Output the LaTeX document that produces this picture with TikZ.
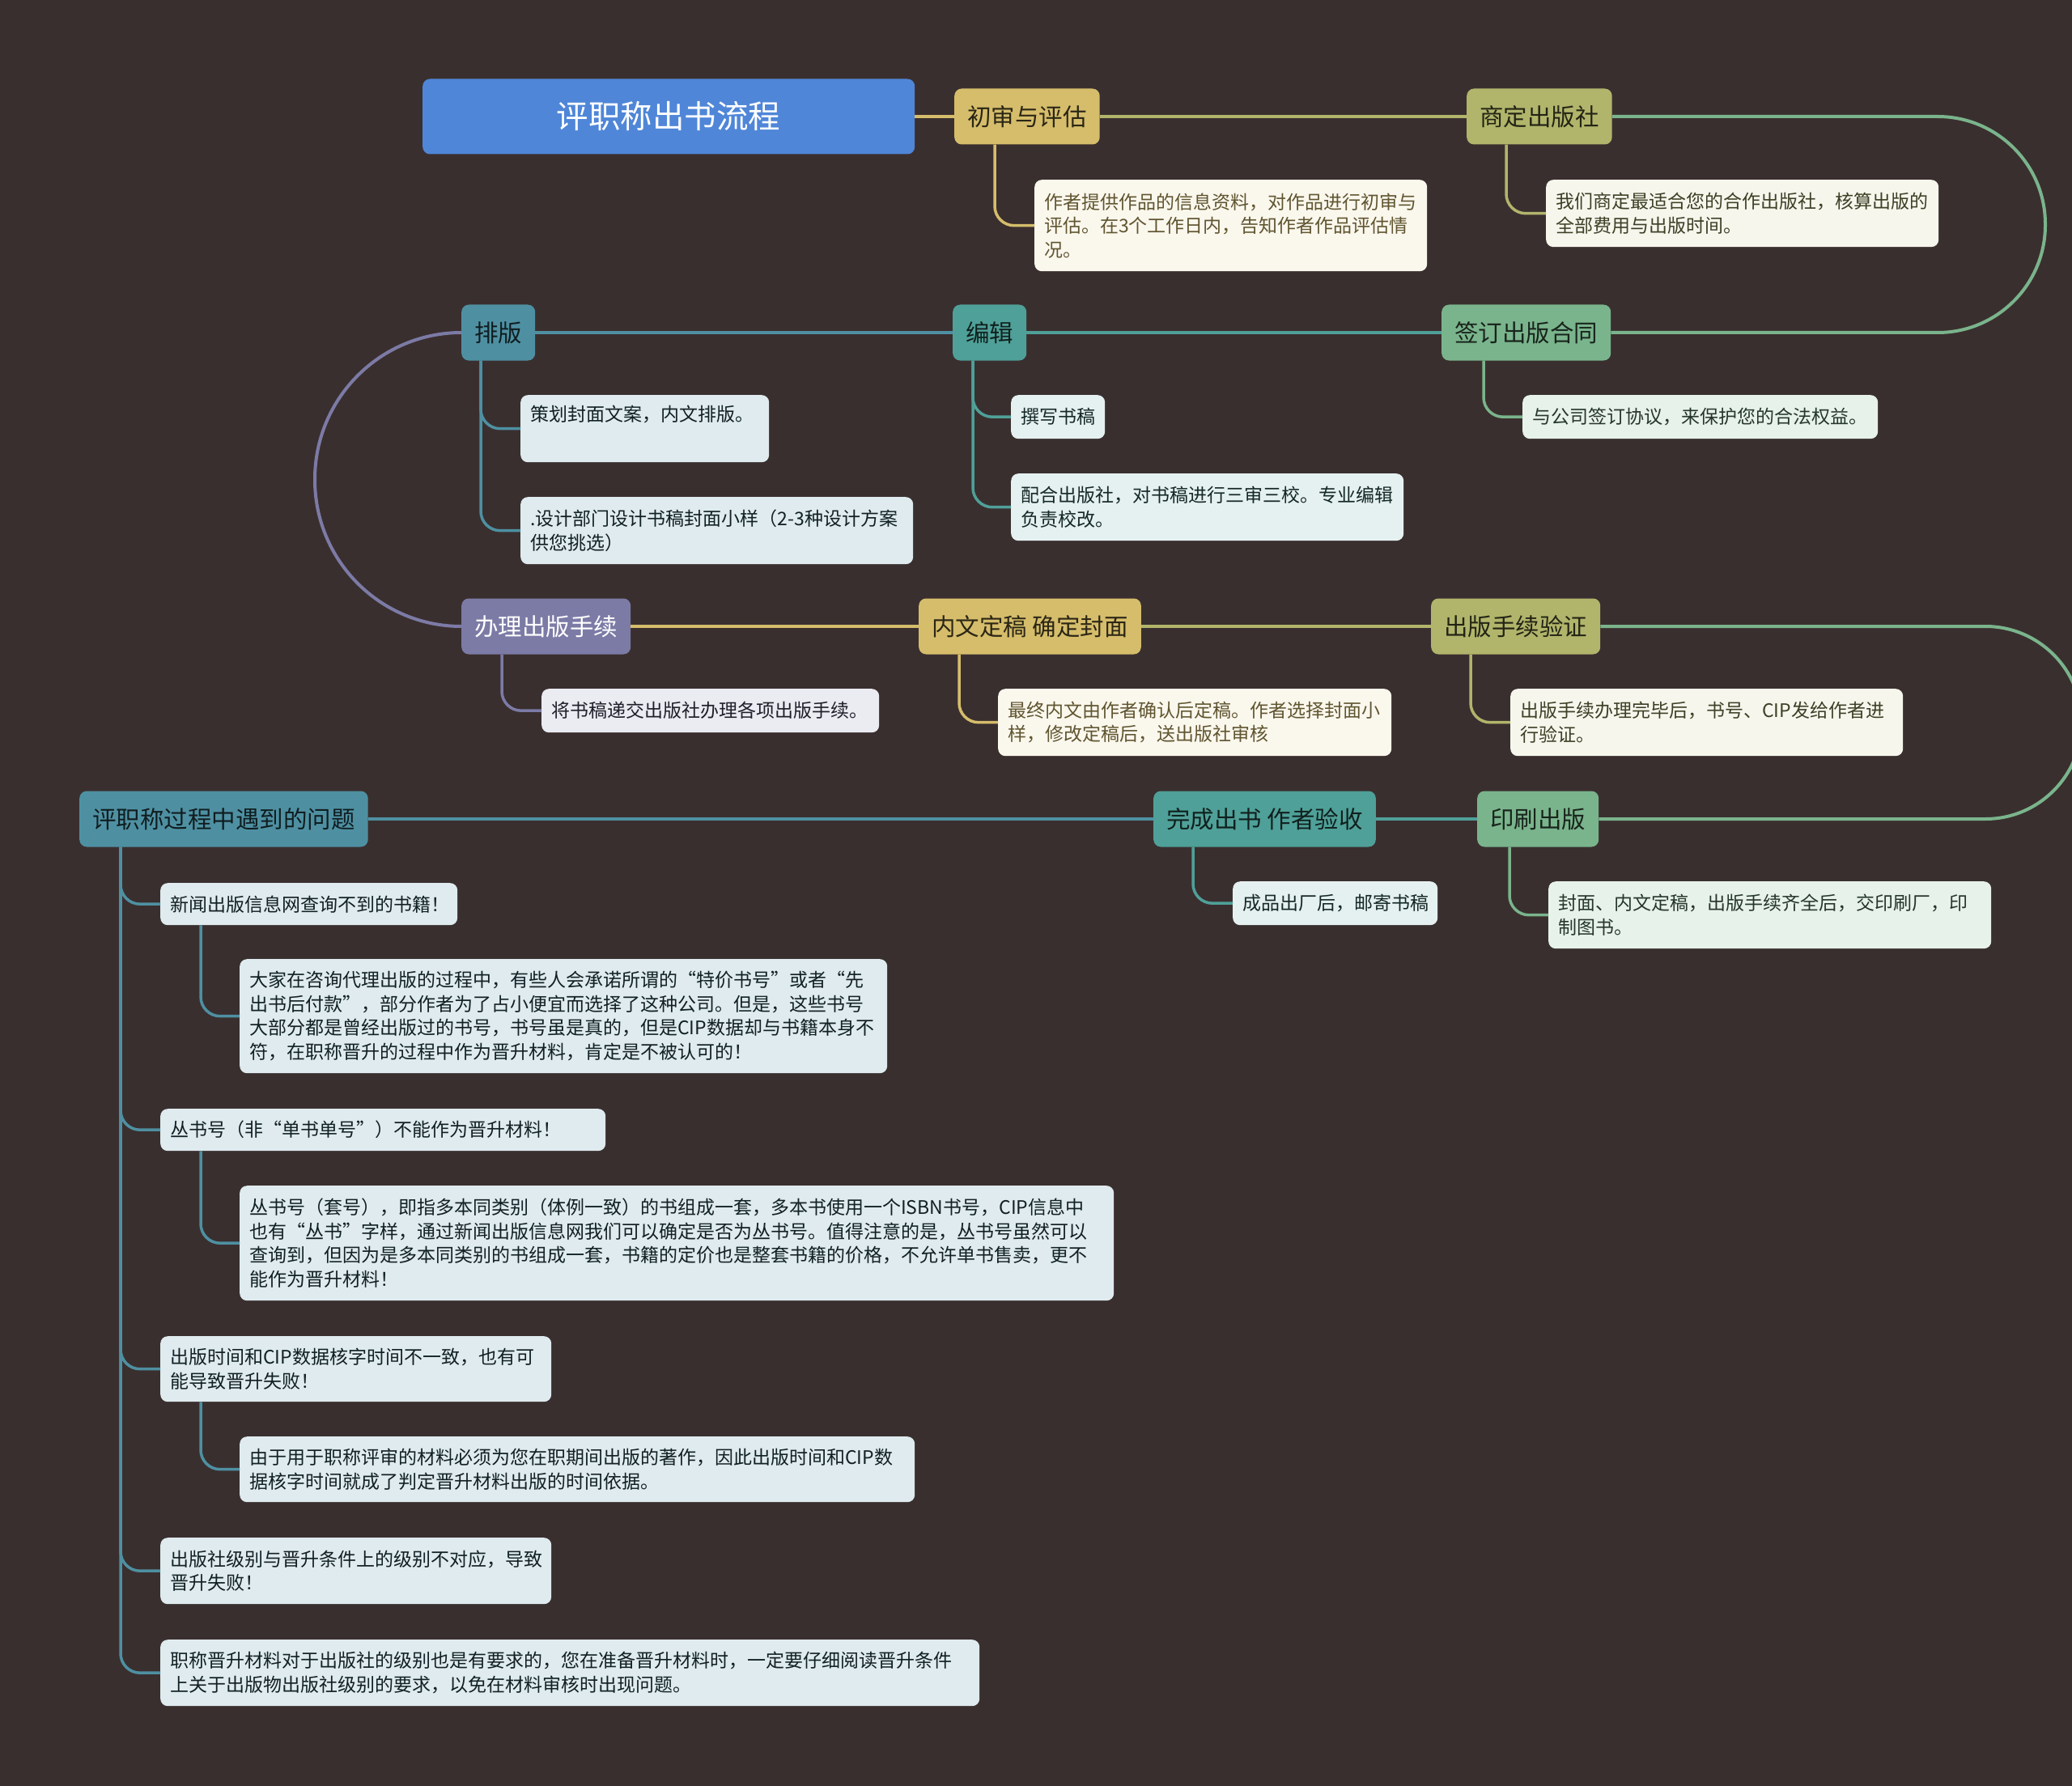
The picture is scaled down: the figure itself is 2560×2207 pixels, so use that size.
\documentclass[tikz,border=0pt]{standalone}
\usepackage{fontspec}
\setmainfont{Noto Sans CJK SC}
\usepackage{xcolor}
\definecolor{bgc}{RGB}{58,47,47}
\definecolor{titlec}{RGB}{79,134,216}
\definecolor{goldc}{RGB}{213,189,107}
\definecolor{olivec}{RGB}{177,181,107}
\definecolor{greenc}{RGB}{122,180,140}
\definecolor{tealc}{RGB}{79,160,152}
\definecolor{bluec}{RGB}{78,144,162}
\definecolor{purplec}{RGB}{124,123,166}

\tikzset{
  topic/.style={rounded corners=9pt, anchor=west, inner xsep=16pt, minimum height=69pt,
    font=\fontsize{29.5pt}{34pt}\selectfont},
  leaf/.style={rounded corners=9pt, anchor=north west, align=left, inner xsep=12pt, inner ysep=0pt,
    font=\fontsize{23pt}{29.5pt}\selectfont},
  link/.style={line width=4pt},
  twig/.style={line width=3.5pt, rounded corners=24pt},
  goldtopic/.style={fill=goldc, text=black!80!goldc},
  olivetopic/.style={fill=olivec, text=black!80!olivec},
  greentopic/.style={fill=greenc, text=black!80!greenc},
  tealtopic/.style={fill=tealc, text=black!80!tealc},
  bluetopic/.style={fill=bluec, text=black!80!bluec},
  purpletopic/.style={fill=purplec, text=white},
  goldleaf/.style={fill=goldc!12!white, text=goldc!45!black},
  oliveleaf/.style={fill=olivec!12!white, text=olivec!35!black},
  greenleaf/.style={fill=greenc!18!white, text=greenc!30!black},
  tealleaf/.style={fill=tealc!15!white, text=tealc!25!black},
  blueleaf/.style={fill=bluec!18!white, text=bluec!22!black},
  purpleleaf/.style={fill=purplec!15!white, text=purplec!25!black},
}

\begin{document}
\begin{tikzpicture}[x=1pt,y=-1pt]
  % Background
  \fill[bgc] (0,0) rectangle (2560,2207);
  \useasboundingbox (0,0) rectangle (2560,2207);

  % Root
  \node[topic, fill=titlec, text=white, minimum width=608pt, minimum height=93pt,
    font=\fontsize{39.5pt}{44pt}\selectfont] (root) at (522,144) {评职称出书流程};

  % Main steps
  \node[topic, goldtopic] (chushen) at (1179,144) {初审与评估};
  \node[topic, olivetopic] (shangding) at (1812,144) {商定出版社};
  \node[topic, bluetopic] (paiban) at (570,411) {排版};
  \node[topic, tealtopic] (bianji) at (1177,411) {编辑};
  \node[topic, greentopic] (qianding) at (1781,411) {签订出版合同};
  \node[topic, purpletopic] (banli) at (570,774) {办理出版手续};
  \node[topic, goldtopic] (dinggao) at (1135,774) {内文定稿 确定封面};
  \node[topic, olivetopic] (yanzheng) at (1768,774) {出版手续验证};
  \node[topic, bluetopic] (wenti) at (98,1012) {评职称过程中遇到的问题};
  \node[topic, tealtopic] (wancheng) at (1425,1012) {完成出书 作者验收};
  \node[topic, greentopic] (yinshua) at (1825,1012) {印刷出版};

  % Main links
  \draw[link, goldc] (root.east) -- (chushen.west);
  \draw[link, olivec] (chushen.east) -- (shangding.west);
  \draw[link, greenc, rounded corners=133pt] (shangding.east) -- (2527,144) -- (2527,411) -- (qianding.east);
  \draw[link, tealc] (qianding.west) -- (bianji.east);
  \draw[link, bluec] (bianji.west) -- (paiban.east);
  \draw[link, purplec, rounded corners=181pt] (paiban.west) -- (389,411) -- (389,774) -- (banli.west);
  \draw[link, goldc] (banli.east) -- (dinggao.west);
  \draw[link, olivec] (dinggao.east) -- (yanzheng.west);
  \draw[link, greenc, rounded corners=119pt] (yanzheng.east) -- (2572,774) -- (2572,1012) -- (yinshua.east);
  \draw[link, tealc] (yinshua.west) -- (wancheng.east);
  \draw[link, bluec] (wancheng.west) -- (wenti.east);

  % Details of the steps
  \node[leaf, goldleaf, text width=461pt, minimum height=113pt] (c1) at (1278,222)
    {作者提供作品的信息资料，对作品进行初审与\\评估。在3个工作日内，告知作者作品评估情\\况。};
  \node[leaf, oliveleaf, text width=461pt, minimum height=83pt] (c2) at (1910,222)
    {我们商定最适合您的合作出版社，核算出版的\\全部费用与出版时间。};
  \node[leaf, blueleaf, text width=283pt, minimum height=83pt] (c3a) at (643,488)
    {策划封面文案，内文排版。\\ \strut};
  \node[leaf, blueleaf, text width=461pt, minimum height=83pt] (c3b) at (643,614)
    {.设计部门设计书稿封面小样（2-3种设计方案\\供您挑选）};
  \node[leaf, tealleaf, text width=92pt, minimum height=54pt] (c4a) at (1249,488) {撰写书稿};
  \node[leaf, tealleaf, text width=461pt, minimum height=83pt] (c4b) at (1249,585)
    {配合出版社，对书稿进行三审三校。专业编辑\\负责校改。};
  \node[leaf, greenleaf, text width=415pt, minimum height=54pt] (c5) at (1881,488)
    {与公司签订协议，来保护您的合法权益。};
  \node[leaf, purpleleaf, text width=393pt, minimum height=54pt] (c6) at (669,851)
    {将书稿递交出版社办理各项出版手续。};
  \node[leaf, goldleaf, text width=462pt, minimum height=83pt] (c7) at (1233,851)
    {最终内文由作者确认后定稿。作者选择封面小\\样，修改定稿后，送出版社审核};
  \node[leaf, oliveleaf, text width=461pt, minimum height=83pt] (c8) at (1866,851)
    {出版手续办理完毕后，书号、CIP发给作者进\\行验证。};
  \node[leaf, tealleaf, text width=229pt, minimum height=54pt] (c9) at (1523,1089)
    {成品出厂后，邮寄书稿};
  \node[leaf, greenleaf, text width=523pt, minimum height=83pt] (c10) at (1913,1089)
    {封面、内文定稿，出版手续齐全后，交印刷厂，印\\制图书。};

  % Problems
  \node[leaf, blueleaf, text width=343pt, minimum height=52pt] (q1) at (198,1091)
    {新闻出版信息网查询不到的书籍！};
  \node[leaf, blueleaf, text width=776pt, minimum height=141pt] (q1a) at (296,1185)
    {大家在咨询代理出版的过程中，有些人会承诺所谓的“特价书号”或者“先\\出书后付款”，部分作者为了占小便宜而选择了这种公司。但是，这些书号\\大部分都是曾经出版过的书号，书号虽是真的，但是CIP数据却与书籍本身不\\符，在职称晋升的过程中作为晋升材料，肯定是不被认可的！};
  \node[leaf, blueleaf, text width=526pt, minimum height=52pt] (q2) at (198,1370)
    {丛书号（非“单书单号”）不能作为晋升材料！};
  \node[leaf, blueleaf, text width=1056pt, minimum height=142pt] (q2a) at (296,1465)
    {丛书号（套号），即指多本同类别（体例一致）的书组成一套，多本书使用一个ISBN书号，CIP信息中\\也有“丛书”字样，通过新闻出版信息网我们可以确定是否为丛书号。值得注意的是，丛书号虽然可以\\查询到，但因为是多本同类别的书组成一套，书籍的定价也是整套书籍的价格，不允许单书售卖，更不\\能作为晋升材料！};
  \node[leaf, blueleaf, text width=459pt, minimum height=81pt] (q3) at (198,1651)
    {出版时间和CIP数据核字时间不一致，也有可\\能导致晋升失败！};
  \node[leaf, blueleaf, text width=810pt, minimum height=81pt] (q3a) at (296,1775)
    {由于用于职称评审的材料必须为您在职期间出版的著作，因此出版时间和CIP数\\据核字时间就成了判定晋升材料出版的时间依据。};
  \node[leaf, blueleaf, text width=459pt, minimum height=82pt] (q4) at (198,1900)
    {出版社级别与晋升条件上的级别不对应，导致\\晋升失败！};
  \node[leaf, blueleaf, text width=988pt, minimum height=82pt] (q5) at (198,2026)
    {职称晋升材料对于出版社的级别也是有要求的，您在准备晋升材料时，一定要仔细阅读晋升条件\\上关于出版物出版社级别的要求，以免在材料审核时出现问题。};

  % Twigs
  \draw[twig, goldc] ([xshift=50pt]chushen.south west) |- (c1.west);
  \draw[twig, olivec] ([xshift=49pt]shangding.south west) |- (c2.west);
  \draw[twig, bluec] ([xshift=24pt]paiban.south west) |- (c3a.west);
  \draw[twig, bluec] ([xshift=24pt]paiban.south west) |- (c3b.west);
  \draw[twig, tealc] ([xshift=25pt]bianji.south west) |- (c4a.west);
  \draw[twig, tealc] ([xshift=25pt]bianji.south west) |- (c4b.west);
  \draw[twig, greenc] ([xshift=52pt]qianding.south west) |- (c5.west);
  \draw[twig, purplec] ([xshift=50pt]banli.south west) |- (c6.west);
  \draw[twig, goldc] ([xshift=50pt]dinggao.south west) |- (c7.west);
  \draw[twig, olivec] ([xshift=49pt]yanzheng.south west) |- (c8.west);
  \draw[twig, tealc] ([xshift=49pt]wancheng.south west) |- (c9.west);
  \draw[twig, greenc] ([xshift=40pt]yinshua.south west) |- (c10.west);
  \foreach \q in {q1,q2,q3,q4,q5}
    \draw[twig, bluec] ([xshift=51pt]wenti.south west) |- (\q.west);
  \foreach \q in {q1,q2,q3}
    \draw[twig, bluec] ([xshift=50pt]\q.south west) |- (\q a.west);
\end{tikzpicture}
\end{document}
